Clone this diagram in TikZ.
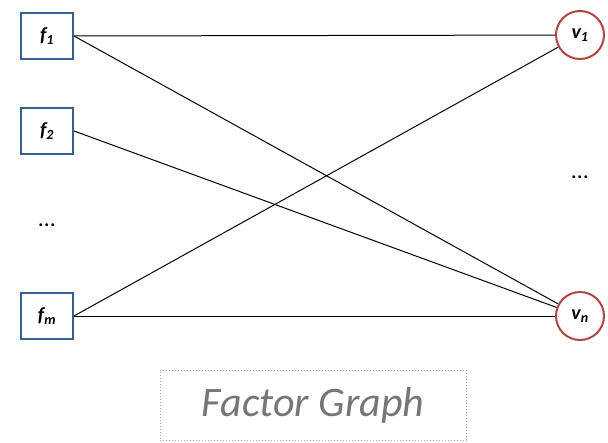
\documentclass[tikz,border=0pt]{standalone}
\usepackage{fontspec}
\setmainfont{Carlito}
\definecolor{fblue}{RGB}{55,96,146}
\definecolor{vred}{RGB}{176,70,66}
\definecolor{capgray}{RGB}{118,118,118}
\newcommand{\lbl}[2]{\textbf{\textit{#1\textsubscript{#2}}}}

\begin{document}
\begin{tikzpicture}[x=1pt,y=-1pt,line width=1pt,
  factor/.style={draw=fblue,line width=2pt,minimum width=52pt,minimum height=46pt,inner sep=0pt,font=\fontsize{20}{22}\selectfont},
  var/.style={circle,draw=vred,line width=2pt,minimum size=48pt,inner sep=0pt,font=\fontsize{20}{22}\selectfont},
  dots/.style={font=\fontsize{24}{26}\selectfont},
  caption/.style={draw=gray!70,dotted,line width=1pt,minimum width=306pt,minimum height=70pt,text=capgray,font=\fontsize{42}{46}\selectfont\itshape}]
\useasboundingbox (0,0) rectangle (608,442);

\node[factor] (f1) at (47,36) {\lbl{f}{1}};
\node[factor] (f2) at (47,131) {\lbl{f}{2}};
\node[dots] (fdots) at (47,225) {…};
\node[factor] (fm) at (47,316) {\lbl{f}{m}};

\node[var] (v1) at (580,35) {\lbl{v}{1}};
\node[dots] (vdots) at (580,177) {…};
\node[var] (vn) at (580,316) {\lbl{v}{n}};

\draw (f1.east) -- (v1);
\draw (f1.east) -- (vn);
\draw (f2.east) -- (vn);
\draw (fm.east) -- (v1);
\draw (fm.east) -- (vn);

\node[caption] (cap) at (313,405) {Factor Graph};
\end{tikzpicture}
\end{document}
